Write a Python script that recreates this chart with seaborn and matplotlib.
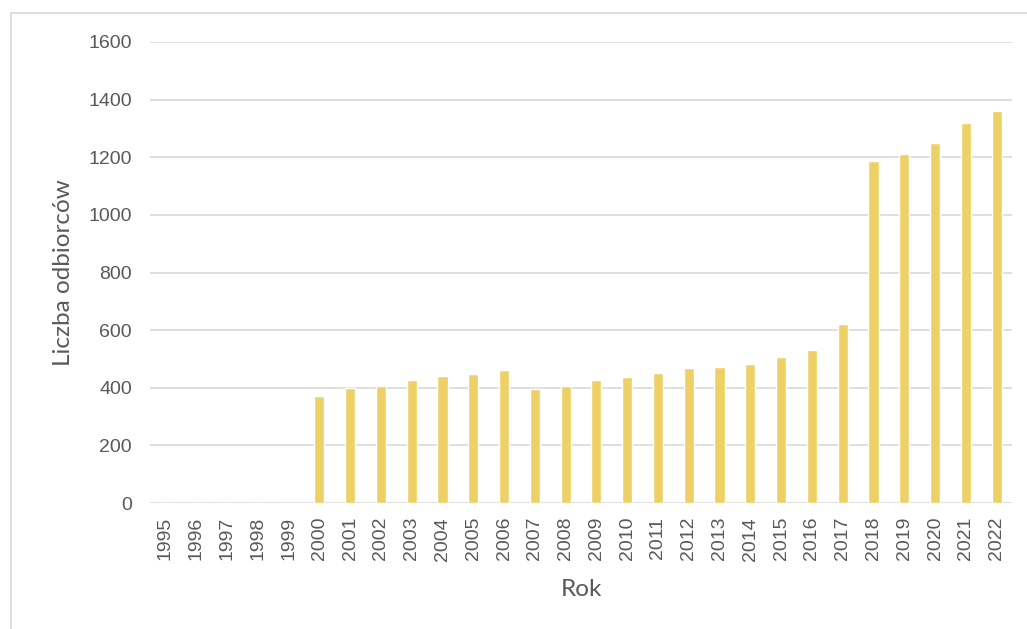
import matplotlib
matplotlib.use("Agg")
import matplotlib.pyplot as plt
import seaborn as sns
import pandas as pd
from matplotlib.patches import Rectangle

# --- Daten ---
years = [str(y) for y in range(1995, 2023)]
odbiorcy = [0, 0, 0, 0, 0,
            370, 400, 406, 426, 440, 448, 462, 395, 406, 427,
            436, 451, 470, 472, 482, 507, 531, 621,
            1188, 1210, 1248, 1318, 1360]
yticks = [0, 200, 400, 600, 800, 1000, 1200, 1400, 1600]

df = pd.DataFrame({"Rok": years, "Liczba": odbiorcy})

sns.set_theme(style="white")
plt.rcParams["font.family"] = ["Liberation Sans", "DejaVu Sans"]

fig = plt.figure(figsize=(10.27, 6.29), dpi=100)
ax = fig.add_axes([150 / 1027, 1 - 503 / 629, 862 / 1027, 461 / 629])

sns.barplot(data=df, x="Rok", y="Liczba", color="#EDD166", saturation=1,
            width=0.33, ax=ax, zorder=3)

ax.set_ylim(0, 1600)
ax.set_xlim(-0.5, len(years) - 0.5)
ax.set_yticks(yticks)
ax.set_yticklabels([str(t) for t in yticks], fontsize=14)
ax.set_xticks(range(len(years)))
ax.set_xticklabels(years, fontsize=14, rotation=90)
ax.grid(axis="y", color="#D9D9D9", lw=1.2, zorder=0)
ax.set_axisbelow(True)
for s in ax.spines.values():
    s.set_visible(False)

ax.tick_params(axis="x", colors="#595959", length=0, pad=10)
ax.tick_params(axis="y", colors="#595959", length=0, pad=13)

ax.set_xlabel("Rok", fontsize=17.5, color="#595959",
              family=["Lato", "DejaVu Sans"], labelpad=13)
ax.set_ylabel("Liczba odbiorców", fontsize=17.5, color="#595959",
              family=["Lato", "DejaVu Sans"], labelpad=10)

# Rahmen um das Diagramm
fig.patches.append(Rectangle((11 / 1027, -0.1), 1.2, 1 - 13 / 629 + 0.1,
                             transform=fig.transFigure, fill=False,
                             edgecolor="#D9D9D9", lw=1.2))

fig.savefig("out.png", dpi=100)
